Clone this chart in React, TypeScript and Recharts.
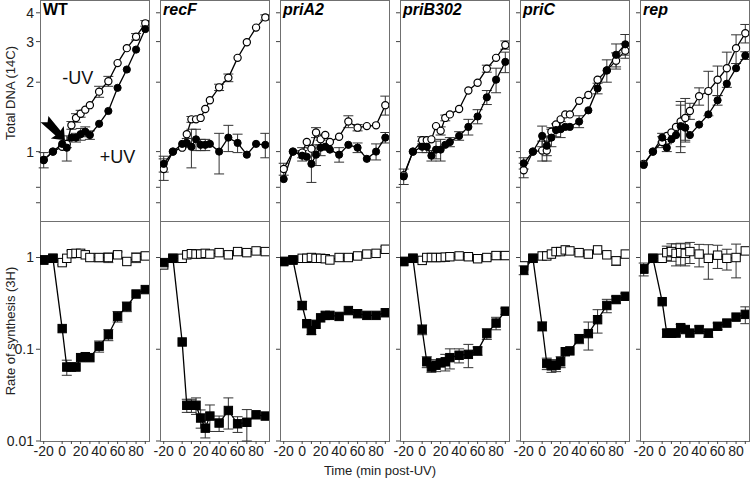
import { LineChart, Line, XAxis, YAxis, ErrorBar, ReferenceDot } from "recharts";

// sampling times (min post-UV), same for every panel
const times = [-20, -10, 0, 5, 10, 15, 20, 25, 30, 40, 50, 60, 70, 80, 90];
const strains = ["WT", "recF", "priA2", "priB302", "priC", "rep"];

const dnaTicks = [0.6, 0.7, 1, 2, 3, 4];
const rateTicks = [0.01, 0.1, 1];
const timeTicks = [-20, 0, 10, 20, 30, 40, 50, 60, 70, 80, 90];

// Total DNA (14C): -UV (open) and +UV (filled)
const wtDnaMinus = [0.92, 1.0, 1.05, 1.08, 1.3, 1.4, 1.46, 1.52, 1.59, 1.82, 2.02, 2.42, 2.81, 3.15, 3.6];
const wtDnaMinusErr = [0, 0, 0, 0.04, 0.05, 0.06, 0.05, 0, 0, 0.1, 0.1, 0, 0, 0.1, 0.1];
const wtDnaPlus = [0.92, 1.0, 1.08, 1.04, 1.15, 1.15, 1.19, 1.22, 1.18, 1.32, 1.5, 1.89, 2.27, 2.77, 3.4];
const wtDnaPlusErr = [0.07, 0, 0, 0.13, 0, 0.05, 0.07, 0.06, 0.05, 0, 0, 0, 0, 0, 0];

const recfDnaMinus = [0.84, 1.0, 1.04, 1.19, 1.38, 1.38, 1.4, 1.53, 1.67, 1.9, 2.09, 2.55, 2.98, 3.45, 3.82];
const recfDnaMinusErr = [0.09, 0, 0, 0, 0.04, 0, 0, 0, 0, 0.06, 0.08, 0, 0, 0, 0.1];
const recfDnaPlus = [0.885, 1.0, 1.08, 1.09, 1.05, 1.13, 1.07, 1.07, 1.08, 1.0, 1.15, 1.09, 0.97, 1.08, 1.07];
const recfDnaPlusErr = [0.07, 0, 0, 0.05, 0.2, 0.12, 0.06, 0.06, 0, 0.2, 0.15, 0.1, 0, 0, 0.13];

const pria2DnaMinus = [0.84, 1.0, 0.99, 1.1, 1.03, 1.21, 1.13, 1.18, 1.1, 1.16, 1.35, 1.27, 1.29, 1.3, 1.59];
const pria2DnaMinusErr = [0.05, 0, 0.05, 0, 0, 0.06, 0.06, 0, 0, 0, 0.08, 0.04, 0, 0, 0.15];
const pria2DnaPlus = [0.76, 1.0, 0.96, 0.95, 0.885, 0.97, 1.04, 1.05, 1.02, 0.97, 1.07, 1.04, 0.93, 1.0, 1.15];
const pria2DnaPlusErr = [0, 0, 0.05, 0, 0.15, 0.1, 0.08, 0, 0, 0.07, 0, 0.05, 0, 0.08, 0.06];

const pribDnaMinus = [0.79, 1.0, 1.12, 1.12, 1.13, 1.29, 1.23, 1.4, 1.45, 1.53, 1.84, 1.99, 2.29, 2.55, 2.9];
const pribDnaMinusErr = [0, 0, 0.04, 0, 0, 0, 0.05, 0.04, 0, 0, 0, 0, 0.08, 0, 0.12];
const pribDnaPlus = [0.78, 1.0, 1.05, 1.05, 0.96, 1.02, 1.02, 1.07, 1.1, 1.17, 1.28, 1.42, 1.72, 2.05, 2.45];
const pribDnaPlusErr = [0.06, 0, 0.06, 0.06, 0.05, 0.09, 0.11, 0, 0.05, 0.05, 0.1, 0.1, 0.12, 0.25, 0.25];

const pricDnaMinus = [0.83, 1.0, 1.01, 1.01, 1.22, 1.31, 1.38, 1.45, 1.45, 1.66, 1.76, 2.05, 2.25, 2.48, 2.74];
const pricDnaMinusErr = [0.06, 0, 0.1, 0.1, 0.05, 0, 0, 0, 0, 0, 0, 0, 0, 0.2, 0.2];
const pricDnaPlus = [0.89, 1.0, 1.17, 1.06, 1.15, 1.24, 1.25, 1.28, 1.28, 1.35, 1.51, 1.88, 2.25, 2.63, 2.92];
const pricDnaPlusErr = [0.05, 0, 0.12, 0.1, 0.1, 0.08, 0.1, 0, 0, 0.08, 0, 0.1, 0.25, 0.3, 0.3];

const repDnaMinus = [0.885, 1.0, 1.1, 1.17, 1.21, 1.28, 1.35, 1.4, 1.5, 1.74, 1.83, 2.05, 2.3, 2.81, 3.26];
const repDnaMinusErr = [0, 0, 0.06, 0, 0, 0, 0.3, 0.3, 0.12, 0.15, 0.4, 0.3, 0.4, 0.4, 0.3];
const repDnaPlus = [0.875, 1.0, 1.15, 1.04, 1.13, 1.18, 1.29, 1.27, 1.18, 1.31, 1.45, 1.67, 1.97, 2.3, 2.61];
const repDnaPlusErr = [0, 0, 0.05, 0.04, 0, 0, 0.3, 0.15, 0, 0, 0, 0.08, 0, 0, 0.1];

// Rate of synthesis (3H): -UV (open) and +UV (filled)
const wtRateMinus = [0.94, 0.98, 0.88, 0.98, 1.1, 1.11, 1.11, 1.07, 1.0, 1.0, 1.0, 1.07, 0.905, 1.0, 1.04];
const wtRateMinusErr = [0, 0, 0.05, 0, 0.08, 0, 0, 0, 0, 0.1, 0.12, 0.08, 0, 0.12, 0.08];
const wtRatePlus = [0.94, 0.98, 0.168, 0.064, 0.064, 0.064, 0.081, 0.083, 0.081, 0.108, 0.144, 0.228, 0.292, 0.4, 0.447];
const wtRatePlusErr = [0, 0, 0, 0.012, 0, 0, 0, 0, 0, 0.015, 0.02, 0.03, 0.035, 0, 0];

const recfRateMinus = [0.83, 0.98, 0.98, 1.07, 1.1, 1.09, 1.09, 1.11, 1.09, 1.13, 1.07, 1.16, 1.13, 1.18, 1.16];
const recfRateMinusErr = [0, 0, 0, 0.05, 0.05, 0, 0, 0, 0, 0, 0, 0, 0, 0, 0];
const recfRatePlus = [0.88, 0.98, 0.12, 0.0245, 0.0245, 0.0245, 0.0178, 0.0138, 0.0187, 0.0157, 0.0215, 0.0154, 0.016, 0.0193, 0.0187];
const recfRatePlusErr = [0, 0, 0, 0.004, 0.004, 0.005, 0.004, 0.003, 0.006, 0.003, 0.008, 0.003, 0.006, 0, 0];

const pria2RateMinus = [0.905, 0.94, 0.98, 0.98, 1.0, 0.98, 0.98, 0.97, 0.94, 1.0, 1.0, 1.04, 1.09, 1.11, 1.23];
const pria2RateMinusErr = [0, 0, 0, 0, 0, 0, 0, 0, 0, 0, 0, 0, 0, 0, 0.08];
const pria2RatePlus = [0.905, 0.94, 0.3, 0.19, 0.16, 0.187, 0.22, 0.234, 0.234, 0.228, 0.264, 0.244, 0.234, 0.234, 0.25];
const pria2RatePlusErr = [0, 0, 0.03, 0, 0.015, 0, 0, 0, 0, 0, 0, 0, 0, 0, 0];

const pribRateMinus = [0.905, 0.98, 0.93, 1.0, 1.0, 1.0, 1.0, 1.01, 1.02, 1.04, 1.02, 0.97, 1.0, 1.05, 1.05];
const pribRateMinusErr = [0, 0, 0, 0, 0, 0, 0, 0, 0, 0.05, 0.08, 0.06, 0.06, 0.1, 0.1];
const pribRatePlus = [0.905, 0.98, 0.164, 0.073, 0.064, 0.067, 0.071, 0.073, 0.081, 0.086, 0.088, 0.096, 0.148, 0.193, 0.26];
const pribRatePlusErr = [0, 0, 0.02, 0.01, 0.008, 0.01, 0, 0.015, 0.02, 0.015, 0.025, 0.01, 0.02, 0.03, 0.02];

const pricRateMinus = [0.81, 0.98, 1.04, 1.04, 1.09, 1.16, 1.16, 1.21, 1.18, 1.13, 1.09, 1.21, 1.07, 0.92, 1.09];
const pricRateMinusErr = [0, 0, 0, 0, 0, 0, 0, 0, 0, 0, 0, 0, 0, 0.1, 0];
const pricRatePlus = [0.73, 0.98, 0.178, 0.07, 0.066, 0.067, 0.073, 0.094, 0.096, 0.13, 0.148, 0.21, 0.3, 0.348, 0.378];
const pricRatePlusErr = [0.08, 0, 0.02, 0.01, 0.01, 0.01, 0.01, 0, 0, 0.015, 0.05, 0.06, 0.05, 0.03, 0.03];

const repRateMinus = [0.75, 0.98, 0.98, 1.13, 1.16, 1.11, 1.13, 1.11, 1.16, 1.09, 0.98, 1.06, 0.98, 1.0, 1.18];
const repRateMinusErr = [0, 0, 0, 0.2, 0.25, 0.3, 0.3, 0.3, 0.3, 0.3, 0.4, 0.3, 0.25, 0.4, 0];
const repRatePlus = [0.75, 0.98, 0.33, 0.15, 0.15, 0.15, 0.172, 0.164, 0.15, 0.164, 0.15, 0.178, 0.193, 0.224, 0.24];
const repRatePlusErr = [0.12, 0, 0, 0.015, 0.015, 0.01, 0.015, 0, 0, 0.015, 0.015, 0.015, 0, 0, 0.05];

const dnaSets = [
  [wtDnaMinus, wtDnaMinusErr, wtDnaPlus, wtDnaPlusErr],
  [recfDnaMinus, recfDnaMinusErr, recfDnaPlus, recfDnaPlusErr],
  [pria2DnaMinus, pria2DnaMinusErr, pria2DnaPlus, pria2DnaPlusErr],
  [pribDnaMinus, pribDnaMinusErr, pribDnaPlus, pribDnaPlusErr],
  [pricDnaMinus, pricDnaMinusErr, pricDnaPlus, pricDnaPlusErr],
  [repDnaMinus, repDnaMinusErr, repDnaPlus, repDnaPlusErr],
];
const rateSets = [
  [wtRateMinus, wtRateMinusErr, wtRatePlus, wtRatePlusErr],
  [recfRateMinus, recfRateMinusErr, recfRatePlus, recfRatePlusErr],
  [pria2RateMinus, pria2RateMinusErr, pria2RatePlus, pria2RatePlusErr],
  [pribRateMinus, pribRateMinusErr, pribRatePlus, pribRatePlusErr],
  [pricRateMinus, pricRateMinusErr, pricRatePlus, pricRatePlusErr],
  [repRateMinus, repRateMinusErr, repRatePlus, repRatePlusErr],
];

const FONT = '"Liberation Sans", Arial, Helvetica, sans-serif';
const PANEL_X = 40;
const PANEL_STEP = 120;
const PANEL_W = 109;
const AXIS_W = 40;
const TOP_H = 221;
const BOTTOM_TOP = 221;
const BOTTOM_H = 220;
const XAXIS_H = 40;

const buildRows = (set: number[][]) =>
  times.map((t, i) => ({
    t,
    open: set[0][i],
    openErr: set[1][i],
    filled: set[2][i],
    filledErr: set[3][i],
  }));

const squareDot = (fill: string) => (props: any) => {
  const { cx, cy, index } = props;
  if (cx == null || cy == null) return <g key={`s-${index}`} />;
  return (
    <rect
      key={`s-${index}`}
      x={cx - 4.2}
      y={cy - 4.2}
      width={8.4}
      height={8.4}
      fill={fill}
      stroke="#000"
      strokeWidth={1}
    />
  );
};

const timeLabel = (v: number) =>
  v === -20 || (v >= 0 && v <= 80 && v % 20 === 0) ? String(v) : "";

// bold arrow pointing at the moment of irradiation (WT panel)
const Arrow = (props: any) => {
  const { cx, cy } = props;
  return (
    <path
      transform={`translate(${cx},${cy}) rotate(46)`}
      d="M0,0 L-11,-9 L-10,-3.5 L-29,-5 L-25,0 L-30,5 L-10,3.5 L-11,9 Z"
      fill="#000"
    />
  );
};

const UvText = (text: string) => (props: any) => (
  <text
    x={props.cx}
    y={props.cy}
    textAnchor="middle"
    dominantBaseline="central"
    fontSize={18}
    fill="#111"
  >
    {text}
  </text>
);

const DnaPanel = ({ idx }: { idx: number }) => {
  const rows = buildRows(dnaSets[idx]);
  return (
    <div style={{ position: "absolute", left: PANEL_X + PANEL_STEP * idx - AXIS_W, top: 0 }}>
      <LineChart
        width={PANEL_W + AXIS_W}
        height={TOP_H}
        data={rows}
        margin={{ top: 1, right: 0, bottom: 0, left: 0 }}
      >
        <XAxis type="number" dataKey="t" domain={[-24, 94]} hide allowDataOverflow />
        <YAxis
          type="number"
          scale="log"
          domain={[0.5, 4.5]}
          allowDataOverflow
          ticks={dnaTicks}
          interval={0}
          width={AXIS_W}
          axisLine={false}
          tickSize={4}
          tickLine={{ stroke: "#444" }}
          tick={{ fontSize: 14, fill: "#222" }}
          tickFormatter={(v: number) => (idx === 0 && v >= 1 ? String(v) : "")}
        />
        <Line
          dataKey="open"
          stroke="#000"
          strokeWidth={1.3}
          dot={{ r: 3.6, fill: "#fff", stroke: "#000", strokeWidth: 1.2 }}
          activeDot={false}
          isAnimationActive={false}
        >
          <ErrorBar dataKey="openErr" width={5} stroke="#333" strokeWidth={1} direction="y" isAnimationActive={false} />
        </Line>
        <Line
          dataKey="filled"
          stroke="#000"
          strokeWidth={1.3}
          dot={{ r: 3.6, fill: "#000", stroke: "#000", strokeWidth: 1 }}
          activeDot={false}
          isAnimationActive={false}
        >
          <ErrorBar dataKey="filledErr" width={5} stroke="#333" strokeWidth={1} direction="y" isAnimationActive={false} />
        </Line>
        {idx === 0 && <ReferenceDot x={3} y={1.12} r={0} shape={Arrow} />}
        {idx === 0 && <ReferenceDot x={17} y={2.09} r={0} shape={UvText("-UV")} />}
        {idx === 0 && <ReferenceDot x={60} y={0.95} r={0} shape={UvText("+UV")} />}
      </LineChart>
    </div>
  );
};

const RatePanel = ({ idx }: { idx: number }) => {
  const rows = buildRows(rateSets[idx]);
  return (
    <div style={{ position: "absolute", left: PANEL_X + PANEL_STEP * idx - AXIS_W, top: BOTTOM_TOP }}>
      <LineChart
        width={PANEL_W + AXIS_W}
        height={BOTTOM_H + XAXIS_H}
        data={rows}
        margin={{ top: 0, right: 0, bottom: 0, left: 0 }}
      >
        <XAxis
          type="number"
          dataKey="t"
          domain={[-24, 94]}
          allowDataOverflow
          ticks={timeTicks}
          interval={0}
          height={XAXIS_H}
          axisLine={false}
          tickSize={3}
          tickLine={{ stroke: "#444" }}
          tick={{ fontSize: 14, fill: "#222" }}
          tickFormatter={timeLabel}
        />
        <YAxis
          type="number"
          scale="log"
          domain={[0.01, 2.5]}
          allowDataOverflow
          ticks={rateTicks}
          interval={0}
          width={AXIS_W}
          axisLine={false}
          tickSize={4}
          tickLine={{ stroke: "#444" }}
          tick={{ fontSize: 14, fill: "#222" }}
          tickFormatter={(v: number) => (idx === 0 ? String(v) : "")}
        />
        <Line
          dataKey="open"
          stroke="#000"
          strokeWidth={1.3}
          dot={squareDot("#fff")}
          activeDot={false}
          isAnimationActive={false}
        >
          <ErrorBar dataKey="openErr" width={5} stroke="#333" strokeWidth={1} direction="y" isAnimationActive={false} />
        </Line>
        <Line
          dataKey="filled"
          stroke="#000"
          strokeWidth={1.3}
          dot={squareDot("#000")}
          activeDot={false}
          isAnimationActive={false}
        >
          <ErrorBar dataKey="filledErr" width={5} stroke="#333" strokeWidth={1} direction="y" isAnimationActive={false} />
        </Line>
      </LineChart>
    </div>
  );
};

export default function App() {
  return (
    <div
      style={{
        position: "absolute",
        left: 0,
        top: 0,
        width: 750,
        height: 481,
        background: "#fff",
        fontFamily: FONT,
        overflow: "hidden",
      }}
    >
      {strains.map((s, i) => (
        <div key={`frame-${s}`}>
          <div
            style={{
              position: "absolute",
              left: PANEL_X + PANEL_STEP * i,
              top: 0,
              width: PANEL_W + 1,
              height: 442,
              border: "1px solid #707070",
              boxSizing: "border-box",
            }}
          />
          <div
            style={{
              position: "absolute",
              left: PANEL_X + PANEL_STEP * i,
              top: 221,
              width: PANEL_W + 1,
              height: 1,
              background: "#707070",
            }}
          />
        </div>
      ))}
      {strains.map((s, i) => (
        <DnaPanel key={`dna-${s}`} idx={i} />
      ))}
      {strains.map((s, i) => (
        <RatePanel key={`rate-${s}`} idx={i} />
      ))}
      {strains.map((s, i) => (
        <div
          key={`title-${s}`}
          style={{
            position: "absolute",
            left: PANEL_X + PANEL_STEP * i + 3,
            top: 2,
            fontSize: 16,
            lineHeight: 1,
            fontWeight: "bold",
            fontStyle: i === 0 ? "normal" : "italic",
            color: "#000",
          }}
        >
          {s}
        </div>
      ))}
      <div
        style={{
          position: "absolute",
          left: 10,
          top: 93,
          transform: "translate(-50%, -50%) rotate(-90deg)",
          fontSize: 13,
          whiteSpace: "nowrap",
          color: "#222",
        }}
      >
        Total DNA (14C)
      </div>
      <div
        style={{
          position: "absolute",
          left: 10,
          top: 331,
          transform: "translate(-50%, -50%) rotate(-90deg)",
          fontSize: 13,
          whiteSpace: "nowrap",
          color: "#222",
        }}
      >
        Rate of synthesis (3H)
      </div>
      <div
        style={{
          position: "absolute",
          left: 380,
          top: 470,
          transform: "translate(-50%, -50%)",
          fontSize: 13,
          whiteSpace: "nowrap",
          color: "#222",
        }}
      >
        Time (min post-UV)
      </div>
    </div>
  );
}
